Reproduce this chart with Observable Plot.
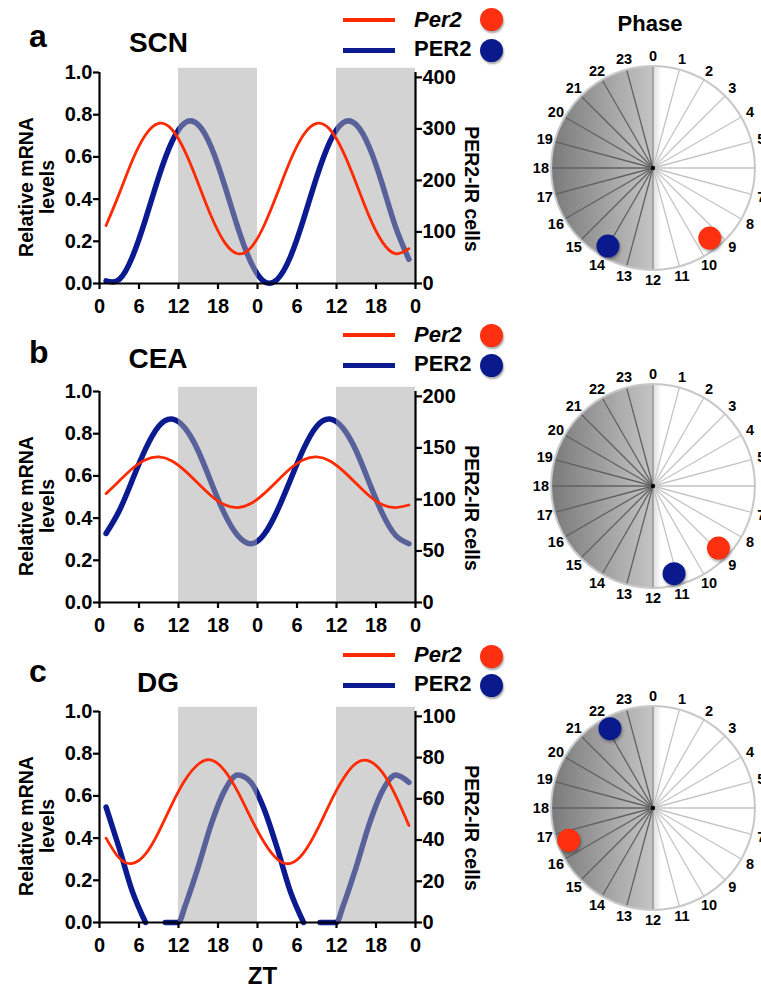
<!DOCTYPE html>
<html><head><meta charset="utf-8">
<script src="https://cdn.jsdelivr.net/npm/d3@7"></script>
<script src="https://cdn.jsdelivr.net/npm/@observablehq/plot@0.6"></script>
<style>
html,body{margin:0;padding:0;background:#fff;overflow:hidden;}
#fig{position:relative;width:761px;height:987px;overflow:hidden;font-family:"Liberation Sans",Arial,Helvetica,sans-serif;font-weight:bold;color:#000;}
.abs{position:absolute;line-height:1;white-space:nowrap;}
.holder{position:absolute;}
.swatch{position:absolute;}
.ldot{position:absolute;border-radius:50%;box-shadow:1px 2px 2px rgba(0,0,0,0.35);}
.clock circle[r="11.5"]{filter:drop-shadow(1px 2px 1.5px rgba(0,0,0,0.35));}
</style></head>
<body>
<svg width="0" height="0" style="position:absolute">
<defs><linearGradient id="clockGrad" x1="0" y1="0" x2="1" y2="0">
<stop offset="0" stop-color="#7a7a7a"/>
<stop offset="0.5" stop-color="#c4c4c4"/>
<stop offset="0.5" stop-color="#dcdcdc"/>
<stop offset="0.54" stop-color="#ffffff"/>
<stop offset="1" stop-color="#ffffff"/>
</linearGradient></defs></svg>
<div id="fig"></div>
<script>
// ---------- data ----------
const zt = [1,3,5,7,9,11,13,15,17,19,21,23,25,27,29,31,33,35,37,39,41,43,45,47];
const ztTicks = [0,6,12,18,24,30,36,42,48];
const mrnaTicks = [0,0.2,0.4,0.6,0.8,1.0];
const nightStart = [12, 36];
const nightEnd = [24, 48];

// SCN
const scnPer2 = [0.275,0.426,0.584,0.705,0.759,0.730,0.625,0.474,0.316,0.195,0.141,0.170,
                 0.275,0.426,0.584,0.705,0.759,0.730,0.625,0.474,0.316,0.195,0.141,0.165];
const scnPER2 = [5,8,52,125,207,275,312,308,264,191,109,41,
                 4,8,52,125,207,275,312,308,264,191,109,47];
const scnTicks = [0,100,200,300,400];
const scnPhase = [9.4, 14.0];

// CEA
const ceaPer2 = [0.516,0.576,0.635,0.677,0.690,0.671,0.624,0.564,0.505,0.463,0.450,0.469,
                 0.516,0.576,0.635,0.677,0.690,0.671,0.624,0.564,0.505,0.463,0.450,0.462];
const ceaPER2 = [67,89,119,149,171,178,169,147,116,86,65,57,
                 66,89,119,149,171,178,169,147,116,86,65,57];
const ceaTicks = [0,50,100,150,200];
const ceaPhase = [8.9, 11.1];

// DG
const dgPer2 = [0.40,0.305,0.28,0.325,0.43,0.56,0.675,0.75,0.77,0.72,0.62,0.495,
                0.38,0.30,0.28,0.33,0.435,0.565,0.68,0.755,0.765,0.71,0.60,0.46];
const dgZT   = [1,3,5,7,8,10,11,12,13,15,17,19,21,23,25,27,29,31,32,33.5,35,36,37,39,41,43,45,47];
const dgPER2 = [56,36,15,0,null,0,0,0,8,27,48,64,71.5,68,55,36,15,0,null,0,0,0,8,27,48,64,71.5,68];
const dgTicks = [0,20,40,60,80,100];
const dgPhase = [16.6, 22.1];

const hours = d3.range(24);
const phaseColors = ["#ff3010", "#0a1a8c"];

// ---------- styling ----------
const FONT = '"Liberation Sans", Arial, Helvetica, sans-serif';
const RED = "#ff2a00", BLUE = "#0b1a8e";
const K = 0.977; // right-axis top relative to left-axis 1.0
const fig = document.getElementById("fig");

function addText(str, {x, baseline, size, anchor = "start", italic = false}) {
  const el = document.createElement("div");
  el.className = "abs";
  el.textContent = str;
  el.style.fontSize = size + "px";
  el.style.top = (baseline - 0.8465 * size) + "px";
  el.style.left = x + "px";
  if (anchor === "middle") el.style.transform = "translateX(-50%)";
  if (italic) el.style.fontStyle = "italic";
  fig.appendChild(el);
}
function addBox(cls, left, top, w, h, color) {
  const el = document.createElement("div");
  el.className = cls;
  Object.assign(el.style, {left: left + "px", top: top + "px", width: w + "px", height: h + "px", background: color});
  fig.appendChild(el);
}
function place(node, left, top, w, h, cls = "holder") {
  const d = document.createElement("div");
  d.className = cls;
  Object.assign(d.style, {left: left + "px", top: top + "px", width: w + "px", height: h + "px"});
  d.appendChild(node);
  fig.appendChild(d);
}

function linePanel({top, mrna, cellsZT, cells, cellsMax, cellsTicks, blueCurve}) {
  const red = zt.map((t, i) => ({t, v: mrna[i]}));
  const blue = cellsZT.map((t, i) => ({t, v: cells[i] == null ? NaN : cells[i] / cellsMax * K}));
  const nights = nightStart.map((s, i) => ({s, e: nightEnd[i]}));
  const p = Plot.plot({
    width: 490, height: 263,
    marginLeft: 99, marginRight: 75, marginTop: 17, marginBottom: 35,
    style: {fontFamily: FONT, fontSize: "20px", fontWeight: "bold", background: "transparent", overflow: "visible", maxWidth: "none"},
    x: {domain: [0, 48], axis: null},
    y: {domain: [0, 1], axis: null},
    marks: [
      Plot.line(blue, {x: "t", y: "v", stroke: BLUE, strokeWidth: 5.5, curve: blueCurve}),
      Plot.rect(nights, {x1: "s", x2: "e", y1: 0, y2: 1.02, fill: "#a8a8a8", fillOpacity: 0.5}),
      Plot.line(red, {x: "t", y: "v", stroke: RED, strokeWidth: 2.8, curve: "natural"}),
      Plot.ruleX([0], {y1: 0, y2: 1, strokeWidth: 2.2}),
      Plot.ruleX([48], {y1: 0, y2: 1, strokeWidth: 2.2}),
      Plot.ruleY([0], {x1: 0, x2: 48, strokeWidth: 2.2}),
      Plot.axisX(ztTicks, {tickSize: 6, tickPadding: 9, strokeWidth: 2.2, tickFormat: d => String(d % 24), label: null}),
      Plot.axisY(mrnaTicks, {anchor: "left", tickSize: 6, tickPadding: 1, strokeWidth: 2.2, tickFormat: d => d.toFixed(1), label: null}),
      Plot.axisY(cellsTicks.map(v => v / cellsMax * K), {anchor: "right", tickSize: 6, tickPadding: 1, strokeWidth: 2.2,
        tickFormat: d => String(Math.round(d / K * cellsMax)), label: null}),
      Plot.text(["Relative mRNA\nlevels"], {text: d => d, frameAnchor: "left", textAnchor: "middle", rotate: -90, dx: -63, dy: 9, lineHeight: 1.08, fontSize: 19.5}),
      Plot.text(["PER2-IR cells"], {text: d => d, frameAnchor: "right", textAnchor: "middle", rotate: 90, dx: 56, dy: 11, fontSize: 19.5})
    ]
  });
  place(p, 0, top, 490, 263);
}

const CW = 265, UNIT = CW / 2.6;
function clockPanel({cx, cy, phases}) {
  const ang = h => h * Math.PI / 12;
  const spokes = hours.map(h => ({h, x: Math.sin(ang(h)), y: Math.cos(ang(h))}));
  const dots = phases.map((h, i) => ({h, c: phaseColors[i]}));
  const p = Plot.plot({
    width: CW, height: CW, margin: 0,
    style: {fontFamily: FONT, fontSize: "14.5px", fontWeight: "bold", background: "transparent", overflow: "visible", maxWidth: "none"},
    x: {domain: [-1.3, 1.3], axis: null},
    y: {domain: [-1.3, 1.3], axis: null},
    color: {type: "identity"},
    marks: [
      Plot.dot([0], {x: 0, y: 0, r: UNIT, fill: "url(#clockGrad)"}),
      Plot.link(spokes, {x1: 0, y1: 0, x2: "x", y2: "y",
        stroke: d => d.h > 12 ? "#606060" : (d.h === 0 || d.h === 12) ? "#8c8c8c" : "#c4c4c4", strokeWidth: 1.3}),
      Plot.dot([0], {x: 0, y: 0, r: UNIT, stroke: "#c8c8c8", strokeWidth: 2, fill: "none"}),
      Plot.dot([0], {x: 0, y: 0, r: 2.2, fill: "#000"}),
      Plot.text(hours, {x: h => 1.1 * Math.sin(ang(h)), y: h => 1.1 * Math.cos(ang(h)), text: d => String(d), fontSize: 14.5}),
      Plot.dot(dots, {x: d => 0.885 * Math.sin(ang(d.h)), y: d => 0.885 * Math.cos(ang(d.h)), r: 11.5, fill: "c"})
    ]
  });
  place(p, cx - CW / 2, cy - CW / 2, CW, CW, "holder clock");
}

function legend(yRed, yBlue, baseRed, baseBlue, cRed, cBlue) {
  addBox("swatch", 343, yRed - 2, 52, 4, RED);
  addBox("swatch", 343, yBlue - 2.5, 52, 5, BLUE);
  addText("Per2", {x: 414, baseline: baseRed, size: 22, italic: true});
  addText("PER2", {x: 414, baseline: baseBlue, size: 22});
  addBox("ldot", 491.7 - 11.5, cRed - 11.5, 23, 23, phaseColors[0]);
  addBox("ldot", 491.7 - 11.5, cBlue - 11.5, 23, 23, phaseColors[1]);
}

// ---------- panels ----------
linePanel({top: 55, mrna: scnPer2, cellsZT: zt, cells: scnPER2, cellsMax: 400, cellsTicks: scnTicks, blueCurve: "natural"});
linePanel({top: 374, mrna: ceaPer2, cellsZT: zt, cells: ceaPER2, cellsMax: 200, cellsTicks: ceaTicks, blueCurve: "natural"});
linePanel({top: 694, mrna: dgPer2, cellsZT: dgZT, cells: dgPER2, cellsMax: 100, cellsTicks: dgTicks, blueCurve: "monotone-x"});

clockPanel({cx: 652.7, cy: 167.5, phases: scnPhase});
clockPanel({cx: 652.7, cy: 485.7, phases: ceaPhase});
clockPanel({cx: 652.3, cy: 807.7, phases: dgPhase});

addText("a", {x: 29, baseline: 47, size: 32});
addText("b", {x: 29, baseline: 363, size: 32});
addText("c", {x: 29, baseline: 682, size: 32});
addText("SCN", {x: 158.5, baseline: 53, size: 28, anchor: "middle"});
addText("CEA", {x: 158, baseline: 369, size: 28, anchor: "middle"});
addText("DG", {x: 158, baseline: 693, size: 28, anchor: "middle"});
addText("Phase", {x: 650, baseline: 32, size: 22, anchor: "middle"});
addText("ZT", {x: 262.5, baseline: 984, size: 24, anchor: "middle"});

legend(20, 50, 28, 57, 19, 50);
legend(335, 365, 343, 372, 335, 365);
legend(655, 685, 663, 692, 656, 685);
</script>
</body></html>
